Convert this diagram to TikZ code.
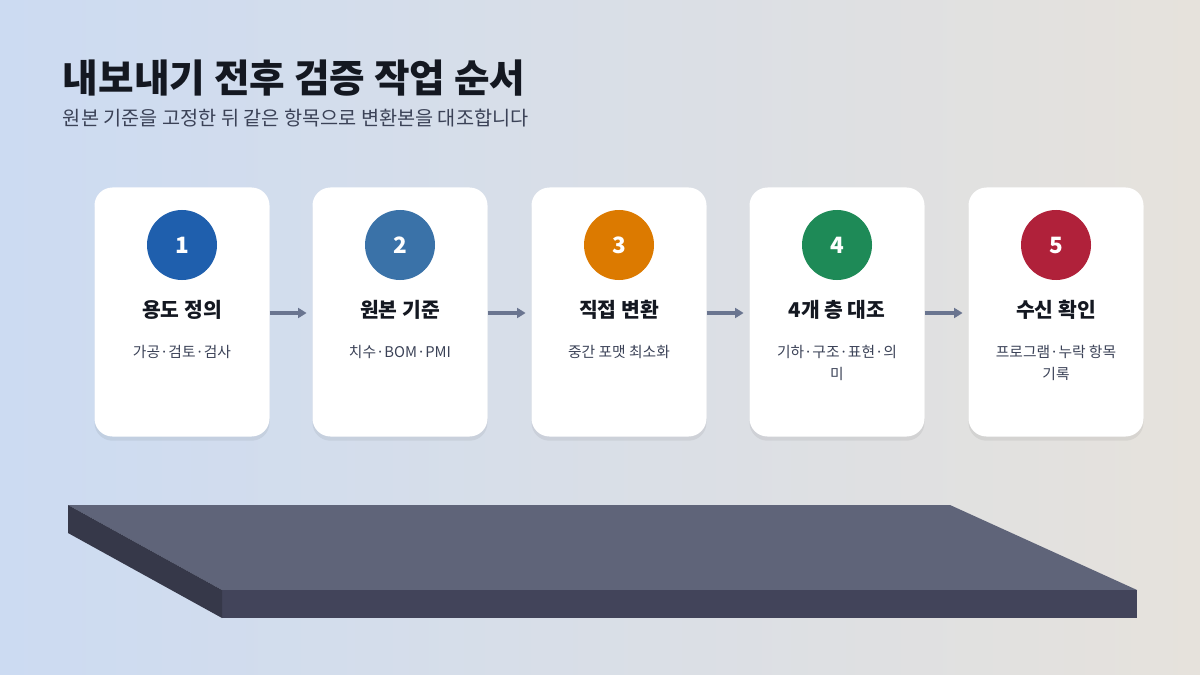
\documentclass[tikz,border=0pt]{standalone}
\usepackage{fontspec}
\setmainfont{Noto Sans CJK KR}
\usetikzlibrary{positioning,shadows,arrows.meta}
\definecolor{ink}{HTML}{141821}
\definecolor{subink}{HTML}{3B4257}
\definecolor{arrowc}{HTML}{6A7590}
\definecolor{bgleft}{HTML}{CCDBF2}
\definecolor{bgright}{HTML}{E6E2DC}
\definecolor{stepA}{HTML}{1F5FAD}
\definecolor{stepB}{HTML}{3A72A8}
\definecolor{stepC}{HTML}{DC7A00}
\definecolor{stepD}{HTML}{1E8A57}
\definecolor{stepE}{HTML}{B0213A}
\tikzset{
  card/.style={draw=none, fill=white, rounded corners=18*0.025cm,
    minimum width=175*0.025cm, minimum height=249*0.025cm,
    drop shadow={shadow xshift=0pt, shadow yshift=-3pt, opacity=0.06, fill=black}},
  badge/.style={circle, minimum size=70*0.025cm, inner sep=0pt,
    text=white, font=\fontsize{16}{18}\selectfont\bfseries},
  steptitle/.style={font=\fontsize{14.5}{17}\selectfont\bfseries, text=ink},
  stepnote/.style={font=\fontsize{10.5}{16}\selectfont, text=subink, align=center},
  flow/.style={-{Triangle[length=6pt,width=7pt]}, line width=2.2pt, draw=arrowc, shorten >=4pt}
}
\begin{document}
\begin{tikzpicture}[x=0.025cm, y=-0.025cm]
    % background
        \shade[left color=bgleft, right color=bgright] (0,0) rectangle (1200,675);
        \useasboundingbox (0,0) rectangle (1200,675);

    % title
        \node[anchor=west, font=\fontsize{27.5}{32}\selectfont\bfseries, text=ink] (title) at (58,78) {내보내기 전후 검증 작업 순서};
        \node[anchor=west, font=\fontsize{14}{17}\selectfont, text=subink] (subtitle) at (58,118) {원본 기준을 고정한 뒤 같은 항목으로 변환본을 대조합니다};

    % platform
        \fill[color={rgb,255:red,95;green,100;blue,121}] (68,505) -- (950,505) -- (1137,590) -- (222,590) -- cycle;
        \fill[color={rgb,255:red,66;green,68;blue,90}] (222,590) rectangle (1137,618);
        \fill[color={rgb,255:red,54;green,56;blue,73}] (68,505) -- (222,590) -- (222,618) -- (68,533) -- cycle;

    % cards
        \foreach \n/\x/\col/\head/\note in {
            1/182/stepA/용도 정의/가공·검토·검사,
            2/400/stepB/원본 기준/치수·BOM·PMI,
            3/619/stepC/직접 변환/중간 포맷 최소화,
            4/837/stepD/4개 층 대조/기하·구조·표현·의\\미,
            5/1056/stepE/수신 확인/프로그램·누락 항목\\기록}{
            \node[card] (card\n) at (\x,312) {};
            \node[badge, fill=\col] (badge\n) at (\x,245) {\n};
            \node[steptitle] (head\n) at (\x,310) {\head};
            \node[stepnote, anchor=north] (note\n) at (\x,340) {\note};
        }

    % arrows
        \draw[flow] ([yshift=-3*0.025cm]card1.east |- head1) -- ([yshift=-3*0.025cm]card2.west |- head2);
        \draw[flow] ([yshift=-3*0.025cm]card2.east |- head2) -- ([yshift=-3*0.025cm]card3.west |- head3);
        \draw[flow] ([yshift=-3*0.025cm]card3.east |- head3) -- ([yshift=-3*0.025cm]card4.west |- head4);
        \draw[flow] ([yshift=-3*0.025cm]card4.east |- head4) -- ([yshift=-3*0.025cm]card5.west |- head5);
    \end{tikzpicture}
\end{document}
